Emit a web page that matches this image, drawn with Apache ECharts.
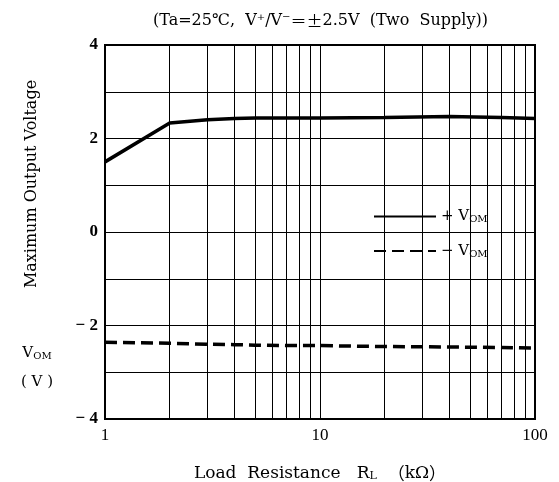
<!DOCTYPE html>
<html>
<head>
<meta charset="utf-8">
<script src="https://cdn.jsdelivr.net/npm/echarts@6/dist/echarts.min.js"></script>
<style>html,body{margin:0;padding:0;background:#fff;}#c{width:559px;height:482px;}</style>
</head>
<body>
<div id="c"></div>
<script>
// Data
var loadResistance = [1, 2, 3, 4, 5, 7, 10, 20, 40, 70, 100];
var vomPlus  = [1.50, 2.33, 2.40, 2.43, 2.44, 2.44, 2.44, 2.45, 2.47, 2.45, 2.43];
var vomMinus = [-2.36, -2.38, -2.40, -2.41, -2.42, -2.43, -2.43, -2.45, -2.46, -2.47, -2.48];
var xMinorGrid = [2, 3, 4, 5, 6, 7, 8, 9, 20, 30, 40, 50, 60, 70, 80, 90];
var yTicks = [-4, -2, 0, 2, 4];

var FONT = '"Liberation Serif", "DejaVu Serif", serif';
var WFONT = '"DejaVu Serif", "Liberation Serif", serif';
var CJK = '"Noto Sans CJK JP", sans-serif';

function pairs(xs, ys) { return xs.map(function (x, i) { return [x, ys[i]]; }); }

var chart = echarts.init(document.getElementById('c'), null, { renderer: 'canvas' });
chart.setOption({
  backgroundColor: '#fff',
  animation: false,
  textStyle: { fontFamily: FONT, color: '#000' },
  title: {
    text: '{t|(Ta=25\u2103,  V\u207A/V\u207B}{c|\uFF1D\u00B1}{t|2.5V  (Two  Supply))}',
    left: 148, top: 8,
    textStyle: {
      fontFamily: WFONT, fontSize: 16, fontWeight: 'normal', color: '#000',
      rich: {
        t: { fontFamily: WFONT, fontSize: 16, color: '#000' },
        c: { fontFamily: CJK, fontSize: 16, color: '#000' }
      }
    }
  },
  grid: { left: 105, right: 24, top: 45, bottom: 63, outerBoundsMode: 'none', show: true, borderColor: '#000', borderWidth: 2, backgroundColor: 'transparent' },
  legend: {
    orient: 'vertical', left: 368, top: 204,
    itemWidth: 62, itemHeight: 14, itemGap: 19,
    data: ['+VOM', '\u2212VOM'],
    itemStyle: { opacity: 0 },
    formatter: function (n) { return '{a|' + n.charAt(0) + ' V}{b|OM}'; },
    textStyle: {
      fontFamily: WFONT, color: '#000',
      rich: {
        a: { fontFamily: WFONT, fontSize: 15, color: '#000' },
        b: { fontFamily: WFONT, fontSize: 10, color: '#000', verticalAlign: 'bottom', padding: [6, 0, 0, 0] }
      }
    }
  },
  xAxis: {
    type: 'log', logBase: 10, min: 1, max: 100,
    axisLine: { show: false },
    axisTick: { show: false },
    axisLabel: { fontFamily: FONT, fontSize: 17, color: '#000', margin: 8 },
    splitLine: { show: true, lineStyle: { color: '#000', width: 1 } },
    name: '{n|Load  Resistance   R}{s|L}{n|  }{p|\uFF08}{n|k\u03A9}{p|\uFF09}',
    nameLocation: 'middle', nameGap: 46,
    nameTextStyle: {
      rich: {
        n: { fontFamily: WFONT, fontSize: 17, color: '#000' },
        p: { fontFamily: CJK, fontSize: 17, color: '#000' },
        s: { fontFamily: WFONT, fontSize: 11, color: '#000', verticalAlign: 'bottom', padding: [6, 0, 0, 0] }
      }
    }
  },
  yAxis: {
    type: 'value', min: -4, max: 4, interval: 1,
    axisLine: { show: false },
    axisTick: { show: false },
    axisLabel: {
      fontFamily: FONT, fontSize: 17, fontWeight: 'bold', color: '#000', margin: 7,
      formatter: function (v) {
        if (yTicks.indexOf(v) < 0) return '';
        return v < 0 ? '\u2212 ' + (-v) : String(v);
      }
    },
    splitLine: { show: true, lineStyle: { color: '#000', width: 1 } }
  },
  graphic: [
    { type: 'text', x: 32, y: 184, rotation: Math.PI / 2,
      style: { text: 'Maximum Output Voltage', fontFamily: WFONT, fontSize: 16, fill: '#000', align: 'center', verticalAlign: 'middle' } },
    { type: 'text', x: 37, y: 353,
      style: { text: '{a|V}{b|OM}', fontFamily: WFONT, align: 'center', verticalAlign: 'middle',
        rich: { a: { fontFamily: WFONT, fontSize: 15, fill: '#000' }, b: { fontFamily: WFONT, fontSize: 10, fill: '#000', verticalAlign: 'bottom', padding: [6, 0, 0, 0] } } } },
    { type: 'text', x: 37, y: 382,
      style: { text: '( V )', fontFamily: WFONT, fontSize: 15, fill: '#000', align: 'center', verticalAlign: 'middle' } }
  ],
  series: [
    {
      name: 'grid', type: 'line', data: [], silent: true,
      markLine: {
        silent: true, symbol: 'none', animation: false,
        label: { show: false },
        lineStyle: { color: '#000', width: 1, type: 'solid' },
        data: xMinorGrid.map(function (v) { return { xAxis: v }; })
      }
    },
    {
      name: '+VOM', type: 'line', data: pairs(loadResistance, vomPlus),
      symbol: 'none', lineStyle: { color: '#000', width: 3.5 }, itemStyle: { color: '#000' }, z: 5
    },
    {
      name: '\u2212VOM', type: 'line', data: pairs(loadResistance, vomMinus),
      symbol: 'none', lineStyle: { color: '#000', width: 3.5, type: [12, 6] }, itemStyle: { color: '#000' }, z: 5
    }
  ]
});
</script>
</body>
</html>
